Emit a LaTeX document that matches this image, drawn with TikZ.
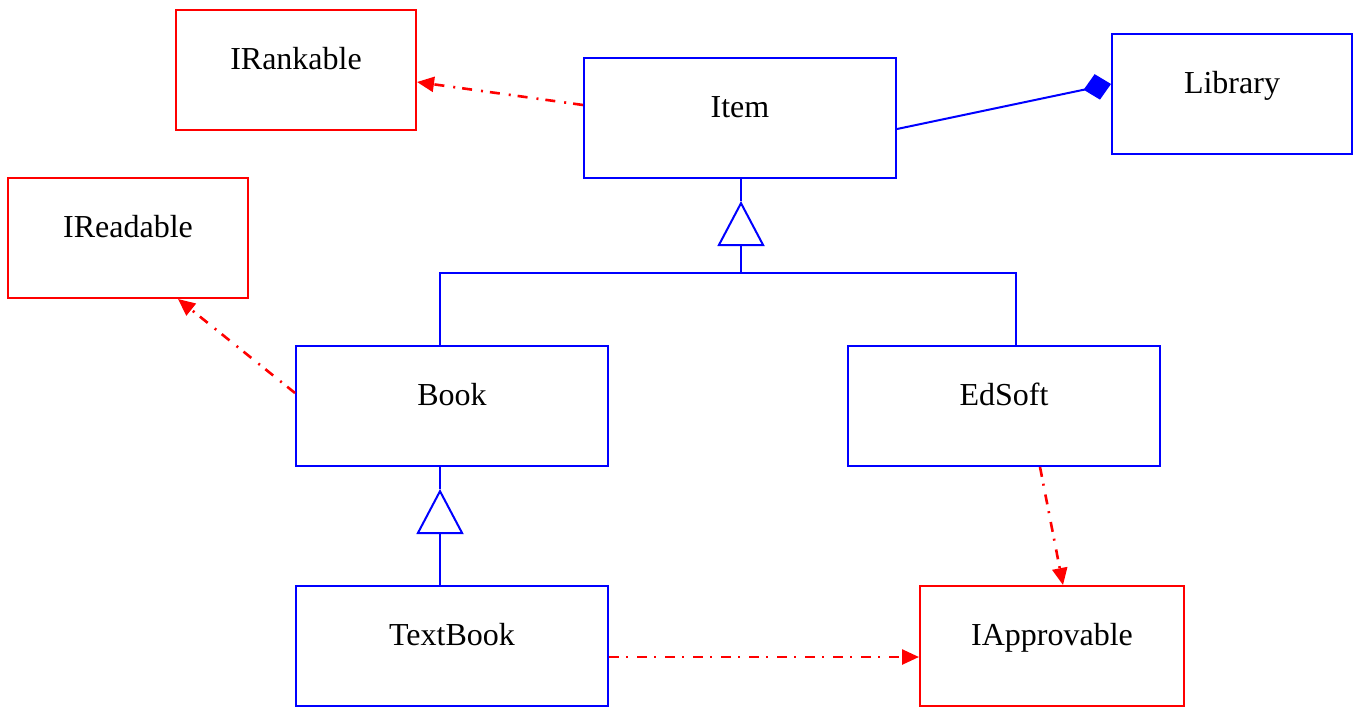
\documentclass[tikz,border=0pt]{standalone}
\usepackage{fontspec}
\setmainfont{Liberation Serif}
\usetikzlibrary{positioning,calc,arrows.meta}

\begin{document}
\begin{tikzpicture}[x=0.5pt,y=-0.5pt,
  cls/.style={draw=blue,line width=1pt,minimum width=156pt,minimum height=60pt,
              inner sep=0pt,text height=10pt,text depth=11pt,
              font=\fontsize{16}{19}\selectfont},
  iface/.style={cls,draw=red,minimum width=120pt},
  realize/.style={red,line width=1.3pt,
                  dash pattern=on 5pt off 3.5pt on 1pt off 4.5pt,
                  -{Triangle[length=8.5pt,width=7.5pt]}},
  extends/.style={blue,line width=1pt,
                  -{Triangle[open,length=22.5pt,width=23.5pt,fill=white]}},
  link/.style={blue,line width=1pt}]
\useasboundingbox (0,0) rectangle (1354,707);
% Classes
\node[cls] (item) at (740,118) {Item};
\node[cls,minimum width=120pt] (library) at (1232,94) {Library};
\node[cls] (book) at (452,406) {Book};
\node[cls] (edsoft) at (1004,406) {EdSoft};
\node[cls] (textbook) at (452,646) {TextBook};
% Interfaces
\node[iface] (irankable) at (296,70) {IRankable};
\node[iface] (ireadable) at (128,238) {IReadable};
\node[iface,minimum width=132pt] (iapprovable) at (1052,646) {IApprovable};
% Book and EdSoft extend Item
\coordinate (tip1) at (741,201);
\coordinate (fork1) at (741,273);
\coordinate (b1) at (440,273);
\coordinate (e1) at (1016,273);
\draw[link] (item.south -| tip1) -- (tip1);
\draw[extends] (fork1) -- (tip1);
\draw[link] (book.north -| b1) -- (b1) -- (e1) -- (edsoft.north -| e1);
% TextBook extends Book
\coordinate (tip2) at (440,489);
\draw[link] (book.south -| tip2) -- (tip2);
\draw[extends] (textbook.north -| tip2) -- (tip2);
% Library is composed of items
\draw[link,-{Diamond[length=14pt,width=13pt]}]
  ($(item.east)+(0,11)$) -- ($(library.west)+(0,-10)$);
% Interface realisations
\draw[realize] ($(item.west)+(0,-13)$) -- ($(irankable.east)+(0,12)$);
\draw[realize] ($(book.west)+(0,-13)$) -- ($(ireadable.south)+(50,0)$);
\draw[realize] ($(edsoft.south)+(36,0)$) -- ($(iapprovable.north)+(11,0)$);
\draw[realize] ($(textbook.east)+(0,11)$) -- ($(iapprovable.west)+(0,11)$);
\end{tikzpicture}
\end{document}
